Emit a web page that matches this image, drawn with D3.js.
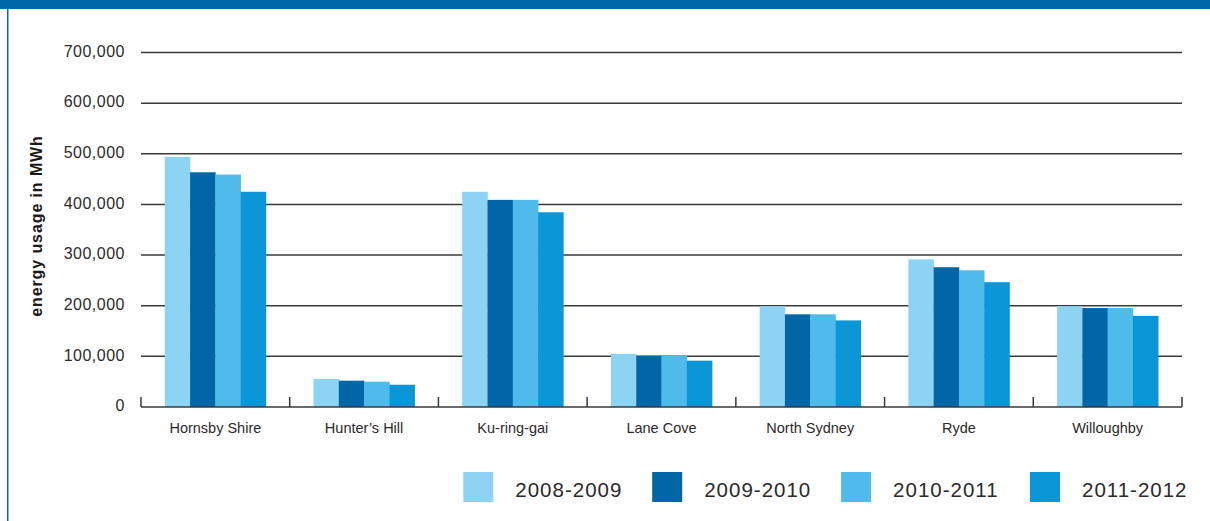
<!DOCTYPE html>
<html>
<head>
<meta charset="utf-8">
<script src="https://cdn.jsdelivr.net/npm/d3@7"></script>
<style>
  html, body { margin: 0; padding: 0; background: #fff; }
  svg { display: block; }
  text { font-family: "Liberation Sans", Arial, sans-serif; fill: #2b2b2b; }
</style>
</head>
<body>
<svg id="chart" width="1210" height="521"></svg>
<script>
const categories = ["Hornsby Shire", "Hunter\u2019s Hill", "Ku-ring-gai", "Lane Cove", "North Sydney", "Ryde", "Willoughby"];
const seriesNames = ["2008-2009", "2009-2010", "2010-2011", "2011-2012"];
const s2008_2009 = [494000, 55500, 425000, 105000, 199000, 291500, 199000];
const s2009_2010 = [463500, 52000, 409000, 101000, 183000, 276000, 195500];
const s2010_2011 = [459000, 50000, 409000, 101000, 183000, 270000, 195500];
const s2011_2012 = [425000, 44000, 384500, 91500, 171000, 246500, 180000];
const yTicks = [0, 100000, 200000, 300000, 400000, 500000, 600000, 700000];
const colors = ["#8DD4F4", "#0066A6", "#4FBBEA", "#0A96D7"];

const seriesValues = [s2008_2009, s2009_2010, s2010_2011, s2011_2012];

const svg = d3.select("#chart");
const plotLeft = 141, plotRight = 1182, plotTop = 52.5, plotBottom = 407;

// frame
svg.append("rect").attr("x", 0).attr("y", 0).attr("width", 1210).attr("height", 9).attr("fill", "#0067A8");
svg.append("rect").attr("x", 7).attr("y", 0).attr("width", 1.5).attr("height", 521).attr("fill", "#0067A8");

const x0 = d3.scaleBand().domain(categories).range([plotLeft, plotRight]).paddingInner(0.32).paddingOuter(0.16);
const x1 = d3.scaleBand().domain(seriesNames).range([0, x0.bandwidth()]).padding(0);
const y = d3.scaleLinear().domain([0, 700000]).range([plotBottom, plotTop]);

// gridlines
svg.append("g").selectAll("line").data(yTicks.filter(d => d > 0)).join("line")
  .attr("x1", plotLeft).attr("x2", plotRight)
  .attr("y1", d => y(d)).attr("y2", d => y(d))
  .attr("stroke", "#3a3a3a").attr("stroke-width", 1.5);

// y tick labels
svg.append("g").selectAll("text").data(yTicks).join("text")
  .attr("x", 125).attr("y", d => y(d))
  .attr("text-anchor", "end").attr("dominant-baseline", "middle")
  .style("font-size", "16px").style("letter-spacing", "0.5px")
  .text(d => d3.format(",")(d));

// bars
const groups = svg.append("g").selectAll("g").data(categories).join("g")
  .attr("transform", d => `translate(${x0(d)},0)`);
groups.selectAll("rect").data((c, i) => seriesNames.map((s, j) => ({ s, v: seriesValues[j][i], j })))
  .join("rect")
  .attr("x", d => x1(d.s))
  .attr("width", x1.bandwidth() + 0.3)
  .attr("y", d => y(d.v))
  .attr("height", d => y(0) - y(d.v))
  .attr("fill", d => colors[d.j]);

// baseline
svg.append("line").attr("x1", plotLeft).attr("x2", plotRight).attr("y1", plotBottom).attr("y2", plotBottom)
  .attr("stroke", "#3a3a3a").attr("stroke-width", 1.5);

// category boundary ticks
const step = x0.step();
const boundaries = d3.range(categories.length + 1).map(i => plotLeft + i * step);
svg.append("g").selectAll("line").data(boundaries).join("line")
  .attr("x1", d => d).attr("x2", d => d)
  .attr("y1", plotBottom - 10).attr("y2", plotBottom)
  .attr("stroke", "#3a3a3a").attr("stroke-width", 1.5);

// category labels
svg.append("g").selectAll("text").data(categories).join("text")
  .attr("x", d => x0(d) + x0.bandwidth() / 2).attr("y", 433)
  .attr("text-anchor", "middle")
  .style("font-size", "14.5px")
  .text(d => d);

// y axis title
svg.append("text")
  .attr("transform", "translate(41.5,226) rotate(-90)")
  .attr("text-anchor", "middle")
  .style("font-size", "16px").style("font-weight", "bold").style("letter-spacing", "0.9px")
  .style("fill", "#1a1a1a")
  .text("energy usage in MWh");

// legend
const legend = svg.append("g").selectAll("g").data(seriesNames).join("g")
  .attr("transform", (d, i) => `translate(${463.3 + i * 188.9},472)`);
legend.append("rect").attr("x", 0).attr("y", 0).attr("width", 30).attr("height", 30)
  .attr("fill", (d, i) => colors[i]);
legend.append("text").attr("x", 52).attr("y", 25)
  .style("font-size", "20.5px").style("letter-spacing", "1px")
  .text(d => d);
</script>
</body>
</html>
